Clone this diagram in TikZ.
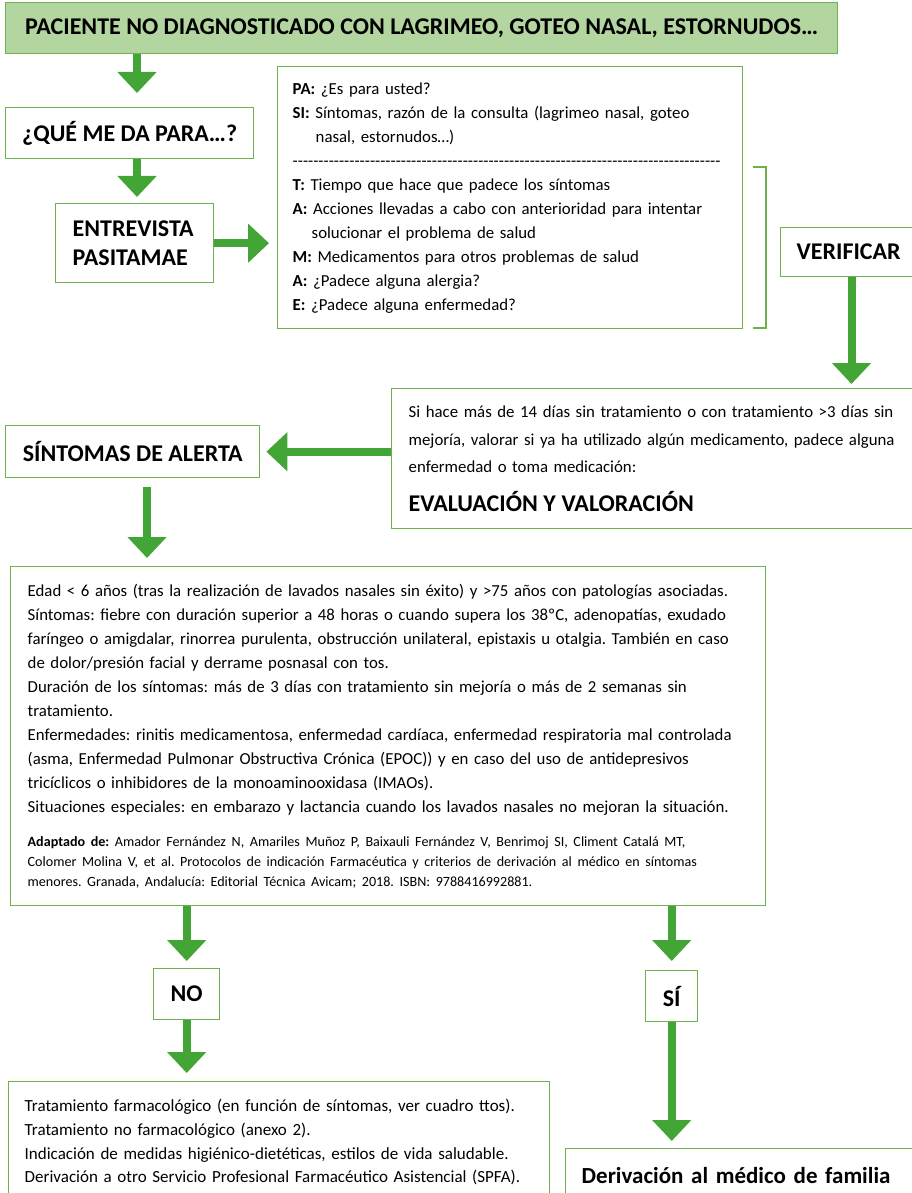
\documentclass[tikz,border=0pt]{standalone}
\usepackage{fontspec}
\setmainfont{Carlito}
\usepackage{xcolor}
\usetikzlibrary{arrows.meta,positioning,calc}
\frenchspacing

\definecolor{boxgreen}{HTML}{6DB24F}
\definecolor{headfill}{HTML}{B3D5A0}
\definecolor{arrowgreen}{HTML}{43A536}

\tikzset{
  box/.style={draw=boxgreen, line width=1.4pt, fill=white, inner sep=0pt, anchor=north west},
  headbox/.style={box, font=\bfseries\fontsize{24}{26}\selectfont, align=center},
  textbox/.style={box, font=\fontsize{16.8}{24}\selectfont, align=left},
  blockarrow/.style={arrowgreen, line width=8pt, -{Triangle[width=38pt,length=21pt]}},
  bracket/.style={boxgreen, line width=1.4pt},
}

\begin{document}
\begin{tikzpicture}[x=1pt, y=-1pt]
  \clip (0,0) rectangle (912,1193);
  % Columns for the arrows
  \coordinate (c1) at (137,0);
  \coordinate (c2) at (147,0);
  \coordinate (c3) at (851.5,0);
  % Header
  \node[headbox, fill=headfill, minimum width=832pt, minimum height=51pt] (top) at (5,2)
    {PACIENTE NO DIAGNOSTICADO CON LAGRIMEO, GOTEO NASAL, ESTORNUDOS…};
  \node[headbox, minimum width=248pt, minimum height=51pt] (qme) at (5,107) {¿QUÉ ME DA PARA…?};
  \node[headbox, align=left, text width=124pt, inner xsep=17pt, minimum height=79pt,
    font=\bfseries\fontsize{24}{29}\selectfont] (entrev) at (55,203) {ENTREVISTA\\PASITAMAE};
  % PASITAMAE questions
  \node[textbox, text width=435pt, inner xsep=15pt, minimum height=262pt] (pasit) at (277,66) {%
    \textbf{PA:} ¿Es para usted?\\
    \textbf{SI:} Síntomas, razón de la consulta (lagrimeo nasal, goteo\\
    \hspace*{23pt}nasal, estornudos…)\\
    \leavevmode\hbox to 428pt{\xleaders\hbox{-}\hfill}\\
    \textbf{T:} Tiempo que hace que padece los síntomas\\
    \textbf{A:} Acciones llevadas a cabo con anterioridad para intentar\\
    \hspace*{19pt}solucionar el problema de salud\\
    \textbf{M:} Medicamentos para otros problemas de salud\\
    \textbf{A:} ¿Padece alguna alergia?\\
    \textbf{E:} ¿Padece alguna enfermedad?};
  \draw[bracket] (753,167) -| (766,328) -- (753,328);
  \node[headbox, minimum width=136pt, minimum height=49pt] (verif) at (780,227) {VERIFICAR};
  % Evaluation
  \node[textbox, text width=506pt, inner xsep=17pt, minimum height=140pt,
    font=\fontsize{16.8}{27.5}\selectfont] (eval) at (391,388) {%
    Si hace más de 14 días sin tratamiento o con tratamiento >3 días sin\\
    mejoría, valorar si ya ha utilizado algún medicamento, padece alguna\\
    enfermedad o toma medicación:\\[11pt]
    {\bfseries\fontsize{24}{26}\selectfont EVALUACIÓN Y VALORACIÓN}};
  \node[headbox, minimum width=254pt, minimum height=52pt] (sint) at (5,425) {SÍNTOMAS DE ALERTA};
  % Alert criteria
  \node[textbox, text width=721pt, inner xsep=17pt, minimum height=339pt] (crit) at (10,566) {%
    Edad < 6 años (tras la realización de lavados nasales sin éxito) y >75 años con patologías asociadas.\\
    Síntomas: fiebre con duración superior a 48 horas o cuando supera los 38ºC, adenopatías, exudado\\
    faríngeo o amigdalar, rinorrea purulenta, obstrucción unilateral, epistaxis u otalgia. También en caso\\
    de dolor/presión facial y derrame posnasal con tos.\\
    Duración de los síntomas: más de 3 días con tratamiento sin mejoría o más de 2 semanas sin\\
    tratamiento.\\
    Enfermedades: rinitis medicamentosa, enfermedad cardíaca, enfermedad respiratoria mal controlada\\
    (asma, Enfermedad Pulmonar Obstructiva Crónica (EPOC)) y en caso del uso de antidepresivos\\
    tricíclicos o inhibidores de la monoaminooxidasa (IMAOs).\\
    Situaciones especiales: en embarazo y lactancia cuando los lavados nasales no mejoran la situación.\par
    \vspace{14pt}
    {\fontsize{14.1}{20}\selectfont\textbf{Adaptado de:} Amador Fernández N, Amariles Muñoz P, Baixauli Fernández V, Benrimoj SI, Climent Catalá MT,\\
    Colomer Molina V, et al. Protocolos de indicación Farmacéutica y criterios de derivación al médico en síntomas\\
    menores. Granada, Andalucía: Editorial Técnica Avicam; 2018. ISBN: 9788416992881.\par}};
  % Answers
  \node[headbox, minimum width=66pt, minimum height=51pt] (no) at (153,968) {NO};
  \node[headbox, minimum width=52pt, minimum height=51pt] (si) at (645,970) {SÍ};
  \node[textbox, text width=509pt, inner xsep=16pt, minimum height=121pt,
    font=\fontsize{17}{23.7}\selectfont] (treat) at (8,1081) {%
    Tratamiento farmacológico (en función de síntomas, ver cuadro ttos).\\
    Tratamiento no farmacológico (anexo 2).\\
    Indicación de medidas higiénico-dietéticas, estilos de vida saludable.\\
    Derivación a otro Servicio Profesional Farmacéutico Asistencial (SPFA).};
  \node[headbox, align=left, text width=333pt, inner xsep=16pt, minimum height=54pt,
    font=\bfseries\fontsize{23}{26}\selectfont] (deriv) at (565,1148) {Derivación al médico de familia};
  % Arrows
  \draw[blockarrow, shorten >=14pt] (top.south -| c1) -- (qme.north -| c1);
  \draw[blockarrow, shorten >=6pt] (qme.south -| c1) -- (entrev.north -| c1);
  \draw[blockarrow, shorten >=8pt] (entrev.east) -- (entrev.east -| pasit.west);
  \draw[blockarrow, shorten >=4pt] (verif.south -| c3) -- (eval.north -| c3);
  \draw[blockarrow, shorten >=6pt] (eval.west |- sint.east) -- (sint.east);
  \draw[blockarrow, shorten <=9pt, shorten >=8pt] (sint.south -| c2) -- (crit.north -| c2);
  \draw[blockarrow, shorten >=7pt] (crit.south -| no.north) -- (no.north);
  \draw[blockarrow, shorten >=8pt] (no.south) -- (treat.north -| no.south);
  \draw[blockarrow, shorten >=9pt] (crit.south -| si.north) -- (si.north);
  \draw[blockarrow, shorten >=7pt] (si.south) -- (deriv.north -| si.south);
\end{tikzpicture}
\end{document}
